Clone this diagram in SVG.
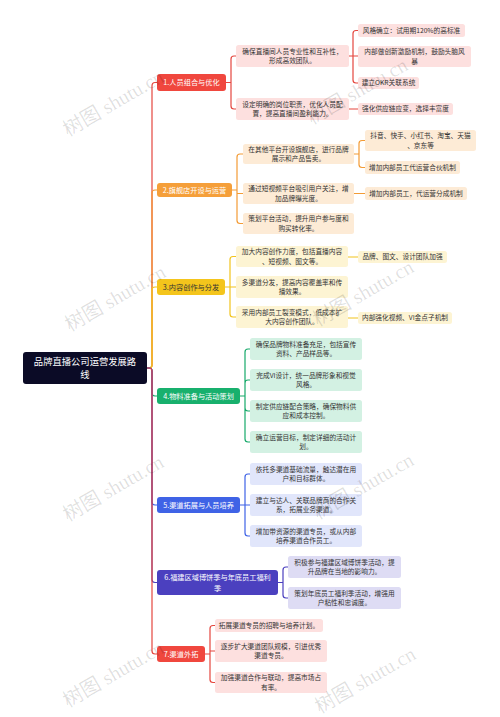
<svg xmlns="http://www.w3.org/2000/svg" width="500" height="717" viewBox="0 0 500 717">
<style>
text{font-family:"Noto Sans CJK SC","Noto Sans",sans-serif;text-anchor:middle}
.t{font-size:6.7px;fill:#333}
.bt{font-size:7.2px;fill:#fff}
.rt{font-size:9.3px;fill:#fff}
.c{fill:none;stroke-width:1.2;stroke-linecap:round}
.r{stroke:#e5473f}.o{stroke:#f39b35}.y{stroke:#f2c41d}.g{stroke:#17a96a}.b{stroke:#3f63e6}.p{stroke:#4b40bf}
.wm{font-family:"Liberation Serif","Noto Sans CJK SC",serif;font-size:20px;fill:#000;fill-opacity:0.13;text-anchor:start}
</style>
<rect width="500" height="717" fill="#fff"/>
<g id="connectors">
<path class="c r" d="M147,368H149Q152,368 152,365V86Q152,82.5 155,82.5H157"/>
<path class="c o" d="M147,368H149Q152,368 152,365V193Q152,190 155,190H157"/>
<path class="c y" d="M147,368H149Q152,368 152,365V290Q152,287 155,287H157"/>
<path class="c g" d="M147,368H149Q152,368 152,371V393Q152,396 155,396H157"/>
<path class="c b" d="M147,368H149Q152,368 152,371V502Q152,505 155,505H157"/>
<path class="c p" d="M147,368H149Q152,368 152,371V579.5Q152,582.5 155,582.5H157"/>
<path class="c r" d="M147,368H149Q152,368 152,371V651Q152,654 155,654H157"/>
<!-- branch 1 -->
<path class="c r" d="M226,82.5H231M231,82.5V59Q231,56 234,56H236M231,82.5V106Q231,109 234,109H236"/>
<path class="c r" d="M349,56H358M353,56V33.5Q353,30.5 356,30.5H358M353,56V80Q353,83 356,83H358M349,109H358"/>
<!-- branch 2 -->
<path class="c o" d="M232,190H237M237,190V157Q237,154 240,154H243M237,190V193.5H243M237,190V220.5Q237,223.5 240,223.5H243"/>
<path class="c o" d="M354,154H359M359,154V143.5Q359,140.5 362,140.5H365M359,154V164.5Q359,167.5 362,167.5H365M354,193.5H365"/>
<!-- branch 3 -->
<path class="c y" d="M225,287H230M230,287V259.5Q230,256.5 233,256.5H236M230,287H236M230,287V314Q230,317 233,317H236"/>
<path class="c y" d="M348,257H358M348,318H358"/>
<!-- branch 4 -->
<path class="c g" d="M240,396H245M245,396V352Q245,349 248,349H250M245,396V383Q245,380 248,380H250M245,396V408Q245,411 248,411H250M245,396V439Q245,442 248,442H250"/>
<!-- branch 5 -->
<path class="c b" d="M240,505H250M245,505V477Q245,474 248,474H250M245,505V533Q245,536 248,536H250"/>
<!-- branch 6 -->
<path class="c p" d="M278,582.5H283M283,582.5V570Q283,567 286,567H288M283,582.5V595Q283,598 286,598H288"/>
<!-- branch 7 -->
<path class="c r" d="M205,654H210M210,654V628.5Q210,625.5 213,625.5H215M210,654V651H215M210,654V679.5Q210,682.5 213,682.5H215"/>
</g>
<g id="root"><rect x="23" y="352" width="124" height="32" rx="3" fill="#0b0b26"/><text class="rt" x="85" y="364.5">品牌直播公司运营发展路</text><text class="rt" x="85" y="378">线</text></g>
<g id="b1"><rect x="157" y="74" width="69" height="17" rx="3" fill="#f0473e"/><text class="bt" x="191.5" y="85">1.人员组合与优化</text></g>
<g id="b1c1"><rect x="236" y="45" width="113" height="22" rx="2.5" fill="#fde0df"/><text class="t" x="292.5" y="53.6">确保直播间人员专业性和互补性，</text><text class="t" x="292.5" y="63">形成高效团队。</text></g>
<g id="b1c2"><rect x="236" y="98" width="113" height="22" rx="2.5" fill="#fde0df"/><text class="t" x="292.5" y="106.6">设定明确的岗位职责，优化人员配</text><text class="t" x="292.5" y="116">置，提高直播间盈利能力。</text></g>
<g id="b1c1a"><rect x="358" y="24" width="107" height="13" rx="2.5" fill="#fde0df"/><text class="t" x="411.5" y="32.9">风格确立：试用期120%的高标准</text></g>
<g id="b1c1b"><rect x="358" y="46" width="113" height="21" rx="2.5" fill="#fde0df"/><text class="t" x="414.5" y="54.1">内部做创新激励机制，鼓励头脑风</text><text class="t" x="414.5" y="63.5">暴</text></g>
<g id="b1c1c"><rect x="358" y="77" width="61" height="12" rx="2.5" fill="#fde0df"/><text class="t" x="388.5" y="85.4">建立OKR关联系统</text></g>
<g id="b1c2a"><rect x="358" y="103" width="95" height="12" rx="2.5" fill="#fde0df"/><text class="t" x="405.5" y="111.4">强化供应链应变，选择丰富度</text></g>
<g id="b2"><rect x="157" y="183" width="75" height="14" rx="3" fill="#f59f3a"/><text class="bt" x="194.5" y="192.5">2.旗舰店开设与运营</text></g>
<g id="b2c1"><rect x="243" y="144" width="111" height="20" rx="2.5" fill="#fdebd6"/><text class="t" x="298.5" y="151.6">在其他平台开设旗舰店，进行品牌</text><text class="t" x="298.5" y="161">展示和产品售卖。</text></g>
<g id="b2c2"><rect x="243" y="183" width="111" height="21" rx="2.5" fill="#fdebd6"/><text class="t" x="298.5" y="191.1">通过短视频平台吸引用户关注，增</text><text class="t" x="298.5" y="200.5">加品牌曝光度。</text></g>
<g id="b2c3"><rect x="243" y="213" width="111" height="21" rx="2.5" fill="#fdebd6"/><text class="t" x="298.5" y="221.1">策划平台活动，提升用户参与度和</text><text class="t" x="298.5" y="230.5">购买转化率。</text></g>
<g id="b2c1a"><rect x="365" y="130" width="111" height="21" rx="2.5" fill="#fdebd6"/><text class="t" x="420.5" y="138.1">抖音、快手、小红书、淘宝、天猫</text><text class="t" x="420.5" y="147.5">、京东等</text></g>
<g id="b2c1b"><rect x="365" y="161" width="95" height="13" rx="2.5" fill="#fdebd6"/><text class="t" x="412.5" y="169.9">增加内部员工代运营合伙机制</text></g>
<g id="b2c2a"><rect x="365" y="187" width="102" height="13" rx="2.5" fill="#fdebd6"/><text class="t" x="416" y="195.9">增加内部员工，代运营分成机制</text></g>
<g id="b3"><rect x="157" y="279" width="68" height="16" rx="3" fill="#f4c51c"/><text class="bt" x="191" y="289.5" style="fill:#333">3.内容创作与分发</text></g>
<g id="b3c1"><rect x="236" y="246" width="112" height="21" rx="2.5" fill="#fdf4d3"/><text class="t" x="292" y="254.1">加大内容创作力度，包括直播内容</text><text class="t" x="292" y="263.5">、短视频、图文等。</text></g>
<g id="b3c2"><rect x="236" y="276" width="112" height="22" rx="2.5" fill="#fdf4d3"/><text class="t" x="292" y="284.6">多渠道分发，提高内容覆盖率和传</text><text class="t" x="292" y="294">播效果。</text></g>
<g id="b3c3"><rect x="236" y="306" width="112" height="22" rx="2.5" fill="#fdf4d3"/><text class="t" x="292" y="314.6">采用内部员工裂变模式，低成本扩</text><text class="t" x="292" y="324">大内容创作团队。</text></g>
<g id="b3c1a"><rect x="358" y="251" width="89" height="12" rx="2.5" fill="#fdf4d3"/><text class="t" x="402.5" y="259.4">品牌、图文、设计团队加强</text></g>
<g id="b3c3a"><rect x="358" y="312" width="94" height="12" rx="2.5" fill="#fdf4d3"/><text class="t" x="405" y="320.4">内部强化视频、VI金点子机制</text></g>
<g id="b4"><rect x="157" y="388" width="83" height="16" rx="3" fill="#18b06d"/><text class="bt" x="198.5" y="398.5">4.物料准备与活动策划</text></g>
<g id="b4c1"><rect x="250" y="338" width="112" height="22" rx="2.5" fill="#d3f1e3"/><text class="t" x="306" y="346.6">确保品牌物料准备充足，包括宣传</text><text class="t" x="306" y="356">资料、产品样品等。</text></g>
<g id="b4c2"><rect x="250" y="369" width="112" height="22" rx="2.5" fill="#d3f1e3"/><text class="t" x="306" y="377.6">完成VI设计，统一品牌形象和视觉</text><text class="t" x="306" y="387">风格。</text></g>
<g id="b4c3"><rect x="250" y="400" width="112" height="22" rx="2.5" fill="#d3f1e3"/><text class="t" x="306" y="408.6">制定供应链配合策略，确保物料供</text><text class="t" x="306" y="418">应和成本控制。</text></g>
<g id="b4c4"><rect x="250" y="431" width="112" height="22" rx="2.5" fill="#d3f1e3"/><text class="t" x="306" y="439.6">确立运营目标，制定详细的活动计</text><text class="t" x="306" y="449">划。</text></g>
<g id="b5"><rect x="157" y="497" width="83" height="16" rx="3" fill="#3f63e6"/><text class="bt" x="198.5" y="507.5">5.渠道拓展与人员培养</text></g>
<g id="b5c1"><rect x="250" y="463" width="112" height="22" rx="2.5" fill="#e1e6fb"/><text class="t" x="306" y="471.6">依托多渠道基础流量，触达潜在用</text><text class="t" x="306" y="481">户和目标群体。</text></g>
<g id="b5c2"><rect x="250" y="494" width="112" height="22" rx="2.5" fill="#e1e6fb"/><text class="t" x="306" y="502.6">建立与达人、关联品牌商的合作关</text><text class="t" x="306" y="512">系，拓展业务渠道。</text></g>
<g id="b5c3"><rect x="250" y="525" width="112" height="22" rx="2.5" fill="#e1e6fb"/><text class="t" x="306" y="533.6">增加带资源的渠道专员，或从内部</text><text class="t" x="306" y="543">培养渠道合作员工。</text></g>
<g id="b6"><rect x="157" y="570" width="121" height="25" rx="3" fill="#4b40bf"/><text class="bt" x="217.5" y="580">6.福建区域博饼季与年底员工福利</text><text class="bt" x="217.5" y="590.5">季</text></g>
<g id="b6c1"><rect x="288" y="556" width="113" height="22" rx="2.5" fill="#dedcf4"/><text class="t" x="344.5" y="564.6">积极参与福建区域博饼季活动，提</text><text class="t" x="344.5" y="574">升品牌在当地的影响力。</text></g>
<g id="b6c2"><rect x="288" y="587" width="113" height="22" rx="2.5" fill="#dedcf4"/><text class="t" x="344.5" y="595.6">策划年底员工福利季活动，增强用</text><text class="t" x="344.5" y="605">户粘性和忠诚度。</text></g>
<g id="b7"><rect x="157" y="646" width="48" height="16" rx="3" fill="#f0473e"/><text class="bt" x="181" y="656.5">7.渠道外拓</text></g>
<g id="b7c1"><rect x="215" y="619" width="108" height="13" rx="2.5" fill="#fde0df"/><text class="t" x="269" y="627.9">拓展渠道专员的招聘与培养计划。</text></g>
<g id="b7c2"><rect x="215" y="640" width="112" height="22" rx="2.5" fill="#fde0df"/><text class="t" x="271" y="648.6">逐步扩大渠道团队规模，引进优秀</text><text class="t" x="271" y="658">渠道专员。</text></g>
<g id="b7c3"><rect x="215" y="672" width="112" height="21" rx="2.5" fill="#fde0df"/><text class="t" x="271" y="680.1">加强渠道合作与联动，提高市场占</text><text class="t" x="271" y="689.5">有率。</text></g>
<g id="watermarks">
<text class="wm" transform="translate(68,137) rotate(-30)">树图 shutu.cn</text>
<text class="wm" transform="translate(312,125) rotate(-30)">树图 shutu.cn</text>
<text class="wm" transform="translate(70,332) rotate(-30)">树图 shutu.cn</text>
<text class="wm" transform="translate(318,327) rotate(-30)">树图 shutu.cn</text>
<text class="wm" transform="translate(68,522) rotate(-30)">树图 shutu.cn</text>
<text class="wm" transform="translate(318,520) rotate(-30)">树图 shutu.cn</text>
<text class="wm" transform="translate(68,708) rotate(-30)">树图 shutu.cn</text>
<text class="wm" transform="translate(320,714) rotate(-30)">树图 shutu.cn</text>
</g>
</svg>
